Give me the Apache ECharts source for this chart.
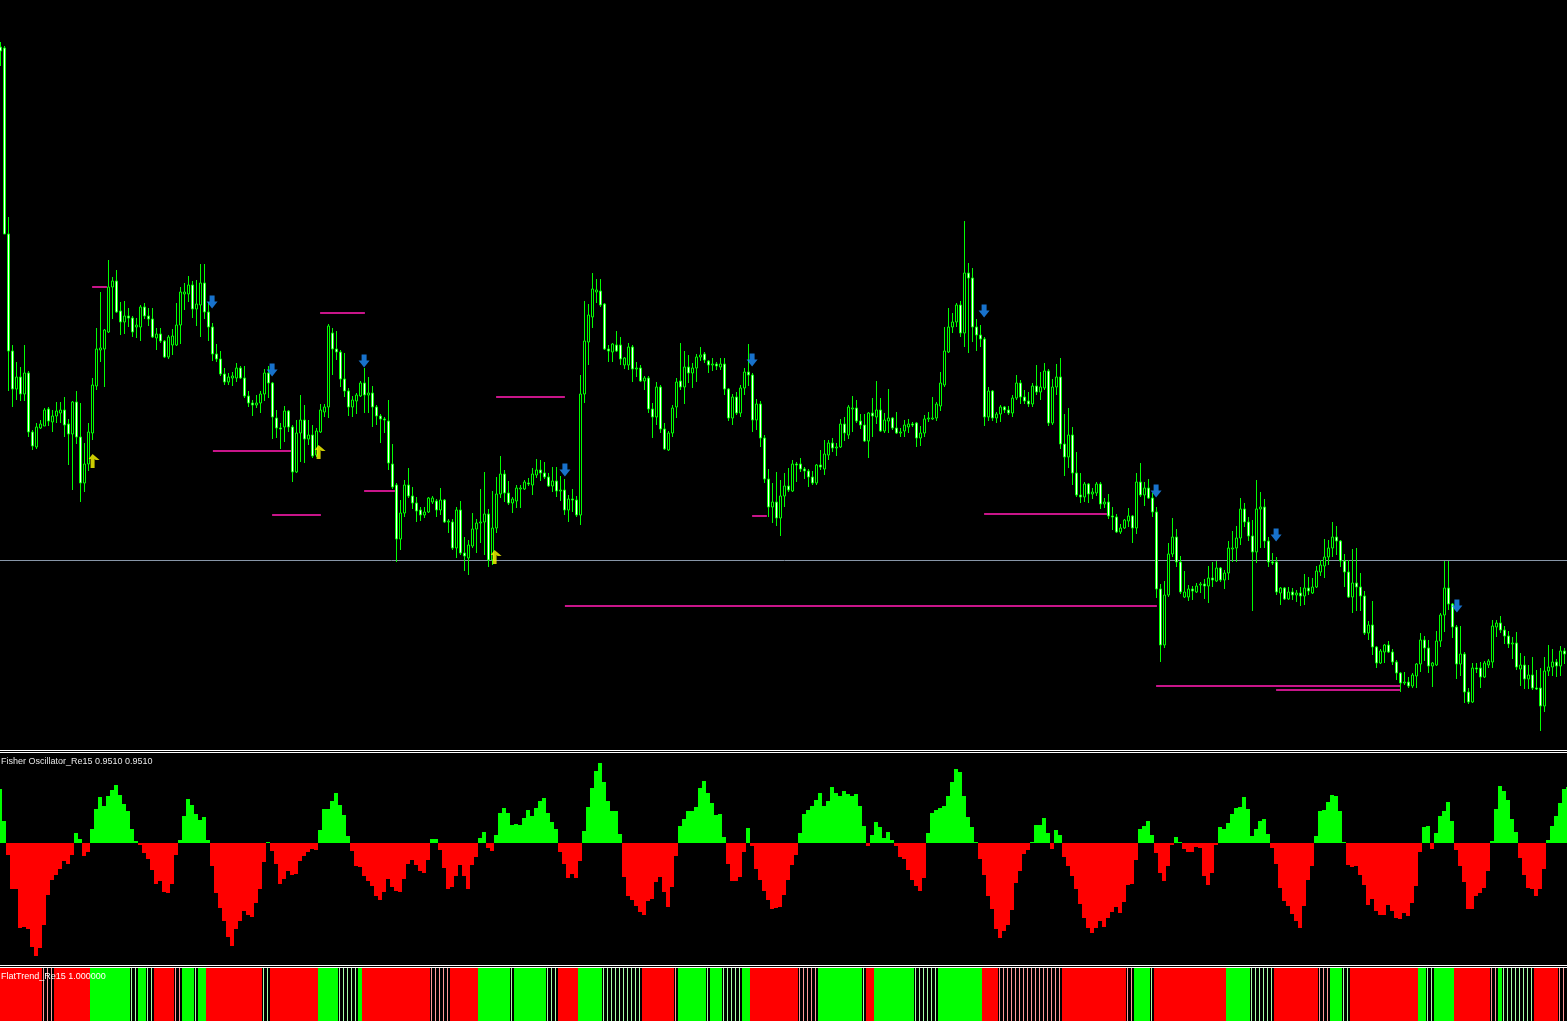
<!DOCTYPE html>
<html><head><meta charset="utf-8">
<script src="https://cdn.jsdelivr.net/npm/echarts@6/dist/echarts.min.js"></script>
<style>html,body{margin:0;padding:0;background:#000;overflow:hidden;width:1567px;height:1021px}#c{position:absolute;left:-3px;top:0;width:1576px;height:1021px}</style>
</head><body><div id="c"></div>
<script>
// ---- main price panel (price points), bars 0..392 ----
const opens = [
703,702,516,399,361,373,356,377,318,303,
322,324,341,328,334,337,340,326,316,348,
313,267,286,317,364,400,401,418,463,469,
439,428,434,432,423,423,443,434,431,412,
416,409,393,405,405,425,456,456,465,441,
445,467,438,423,396,391,376,368,372,372,
382,372,354,347,345,347,356,377,367,332,
322,323,339,323,278,317,330,311,315,295,
318,338,343,417,401,398,371,359,343,349,
354,367,355,357,343,334,331,329,286,265,
211,237,265,254,247,240,235,238,248,249,
240,250,228,228,202,240,197,192,204,221,
227,228,236,190,222,256,276,257,247,249,
261,261,267,265,275,280,277,273,264,269,
259,260,240,251,250,235,356,408,433,458,
459,446,401,398,405,405,385,385,403,381,
382,369,372,341,333,363,321,300,317,343,
369,363,383,377,382,393,396,389,385,386,
383,386,361,332,353,337,362,378,375,330,
346,312,271,243,248,232,254,264,259,286,
286,281,279,273,267,285,281,295,307,302,
303,326,315,341,342,329,325,309,337,333,
340,319,329,332,322,317,319,323,326,327,
312,317,331,331,332,344,365,398,423,428,
445,417,477,472,423,415,411,333,359,332,
336,343,340,337,352,367,353,349,346,364,
358,362,379,327,363,373,306,293,315,277,
255,253,266,256,257,266,246,248,234,233,
218,222,229,234,222,268,255,262,252,238,
161,105,155,196,213,188,153,153,161,158,
165,166,164,172,169,182,170,177,201,202,
212,241,228,214,198,241,243,209,188,188,
157,162,151,158,155,157,154,162,157,163,
178,184,193,202,213,209,189,178,153,167,
163,154,117,125,103,87,98,105,98,88,
77,67,68,64,74,86,110,102,84,85,
109,135,162,146,123,86,96,58,48,82,
82,73,85,88,123,127,120,114,106,107,
81,85,71,75,62,62,44,79,83,88,
84,99,96];
const closes = [
699,516,399,361,373,356,377,318,304,323,
326,340,329,334,339,340,325,316,348,313,
267,286,318,365,401,402,420,463,469,438,
428,434,432,418,425,443,434,431,413,416,
409,393,413,414,425,458,458,465,441,446,
467,438,423,396,391,376,368,373,374,382,
372,354,347,345,347,356,377,367,333,322,
321,339,323,278,317,330,311,315,294,319,
340,343,424,401,398,371,359,343,350,355,
367,355,357,343,334,331,330,287,263,211,
237,265,254,247,239,235,238,252,252,240,
250,228,229,202,240,197,194,205,221,227,
228,236,190,222,256,276,257,247,251,262,
262,268,266,276,280,277,273,264,269,259,
260,240,251,250,235,356,409,435,461,460,
445,401,399,406,399,391,392,403,381,382,
369,372,341,333,363,321,301,317,342,368,
363,383,377,382,393,395,390,385,386,384,
386,361,332,353,337,362,378,375,330,346,
312,271,243,248,232,254,264,260,286,285,
281,279,273,267,285,283,296,307,302,303,
326,317,343,342,329,325,309,337,334,340,
319,330,332,322,317,318,325,326,325,312,
317,331,332,332,346,367,399,423,428,445,
417,477,472,423,415,411,333,359,332,336,
343,340,337,352,367,353,349,346,364,358,
363,379,327,363,373,306,293,315,277,255,
253,266,256,258,266,246,248,234,233,218,
222,230,234,222,268,255,262,252,238,161,
105,155,196,213,188,158,158,161,159,164,
166,164,172,170,182,170,177,202,202,212,
241,228,214,198,241,243,209,188,187,158,
162,151,158,155,157,154,162,159,163,179,
185,193,202,213,209,189,178,153,167,163,
154,117,125,103,87,99,105,98,88,77,
67,68,64,75,86,110,102,84,87,109,
135,162,146,123,86,96,58,48,82,81,
73,87,89,124,127,120,114,106,107,83,
85,71,75,62,61,44,79,83,88,84,
99,96,100];
const highs = [
708,704,533,405,388,383,405,379,320,327,
330,342,343,340,348,348,353,331,349,359,
347,307,327,372,422,458,421,490,473,480,
448,449,442,434,432,445,447,442,442,422,
422,410,415,421,447,463,467,474,469,470,
486,486,448,427,406,399,382,377,378,387,
384,384,359,350,355,359,381,384,368,340,
327,344,340,325,330,355,345,330,325,322,
346,346,426,422,419,400,397,362,354,357,
369,382,373,364,345,336,333,350,306,267,
250,270,282,263,253,243,243,253,254,251,
262,251,231,231,243,249,213,210,237,231,
261,278,241,259,273,294,280,269,253,265,
265,270,272,282,291,290,288,277,283,283,
274,271,255,261,254,375,449,446,477,471,
471,447,405,407,419,413,393,407,405,388,
385,374,374,347,368,365,327,319,345,372,
407,399,395,387,396,403,398,390,392,388,
392,392,362,356,358,365,382,406,377,351,
349,315,281,267,278,270,277,282,290,288,
292,283,281,279,286,300,310,310,312,307,
331,333,345,354,350,336,336,338,352,369,
352,337,361,333,338,322,330,331,328,328,
324,335,338,353,348,378,423,442,437,447,
449,529,487,482,431,425,413,363,360,338,
345,344,344,355,375,370,360,358,367,385,
378,387,381,371,386,392,336,342,323,298,
277,268,267,262,268,268,252,256,243,236,
226,231,242,235,277,287,268,271,257,243,
166,169,207,232,221,194,179,165,164,167,
168,171,184,188,189,183,180,209,219,224,
252,247,233,230,270,258,251,213,197,193,
163,163,163,162,160,163,176,173,172,184,
190,211,210,228,224,210,196,190,201,202,
177,159,129,149,104,101,106,109,101,90,
78,78,73,77,87,117,114,110,88,119,
137,189,189,147,125,124,98,62,87,87,
88,89,91,130,130,134,124,119,113,118,
97,94,85,93,80,82,93,105,101,91,
104,102,105];
const lows = [
684,516,359,343,350,349,349,313,300,301,
321,324,324,318,327,327,313,285,260,306,
248,258,279,310,360,388,363,417,431,437,
415,416,423,413,412,409,431,424,412,400,
407,392,391,395,404,406,440,448,432,424,
413,431,409,389,388,374,365,365,364,368,
371,352,343,334,342,337,349,352,311,312,
301,308,318,268,277,288,287,305,292,293,
317,333,332,375,390,363,353,334,333,336,
353,337,337,323,325,307,317,280,261,188,
200,233,252,241,228,229,232,237,246,233,
235,227,217,200,192,195,179,175,202,197,
207,195,183,185,217,252,248,245,237,242,
242,260,264,255,272,269,271,263,258,253,
249,235,228,238,233,225,347,385,422,447,
443,400,388,388,398,385,381,380,368,373,
368,360,337,312,325,317,300,299,313,332,
360,346,367,362,368,389,387,377,379,380,
380,355,329,325,335,333,355,364,318,320,
303,267,233,227,224,214,243,258,258,268,
278,271,263,265,265,280,275,290,298,294,
302,309,311,318,327,321,308,292,313,326,
318,317,317,320,316,313,313,317,323,303,
304,313,328,330,329,339,363,397,417,423,
413,403,397,408,399,403,324,329,329,327,
328,337,335,333,350,346,346,343,343,355,
350,360,324,325,355,301,274,282,265,253,
247,248,247,251,254,241,242,231,220,217,
216,221,223,207,216,253,244,251,233,152,
88,102,153,193,183,156,152,149,150,157,
157,151,147,163,168,168,161,170,188,188,
205,223,209,139,187,202,202,183,185,155,
145,150,150,150,148,144,145,155,156,162,
174,172,185,193,195,183,163,152,137,139,
139,115,110,95,82,86,87,97,85,70,
58,65,62,62,62,78,89,77,63,84,
103,118,140,112,71,74,47,46,47,77,
62,72,82,82,113,117,106,102,91,80,
64,61,61,60,60,19,38,74,74,73,
74,86,90];

// horizontal price level (grey line)
const priceLevel = 189.5;
// support / resistance segments (bar positions and price)
const levelFrom  = [22.9, 53.1, 67.9, 79.9, 90.9, 123.9, 187.9, 141.1, 245.9, 288.9, 318.9];
const levelTo    = [26.6, 72.6, 80.1, 91.1, 98.6, 141.1, 191.6, 289.1, 276.6, 349.9, 349.9];
const levelPrice = [463, 299, 235, 437, 259, 353, 234, 144, 236, 64, 60];
// signal arrows
const downArrowBar   = [52.9, 67.9, 90.9, 141.1, 187.9, 245.9, 288.9, 318.9, 364.1];
const downArrowPrice = [448, 380, 389, 280, 390, 439, 259, 215, 144];
const upArrowBar     = [23.4, 79.9, 123.9];
const upArrowPrice   = [289, 298, 193];

// ---- Fisher oscillator ----
const fisher = [
54,22,-12,-46,-46,-85,-84,-86,-104,-113,
-105,-82,-52,-37,-32,-26,-18,-21,-12,10,
4,-13,-9,14,34,46,37,47,53,58,
48,39,32,14,2,-2,-10,-16,-27,-41,
-38,-49,-50,-41,-12,3,27,44,38,29,
23,26,3,-23,-50,-65,-78,-94,-103,-86,
-78,-68,-72,-74,-60,-46,-19,1,-8,-21,
-41,-36,-28,-32,-31,-18,-13,-9,-6,-7,
13,34,34,42,50,38,28,7,-8,-23,
-24,-33,-38,-43,-53,-57,-49,-36,-44,-48,
-49,-36,-21,-17,-22,-28,-30,-17,4,4,
-7,-25,-46,-44,-33,-22,-33,-46,-22,-14,
5,11,-5,-8,8,30,35,30,18,19,
18,25,33,27,35,42,45,30,21,14,
-9,-21,-35,-31,-35,-18,12,36,55,72,
80,61,42,32,32,9,-34,-53,-57,-63,
-69,-72,-58,-56,-39,-34,-49,-64,-44,-13,
17,24,32,32,36,55,62,50,40,28,
29,6,-21,-38,-38,-34,-9,15,-3,-26,
-37,-48,-57,-66,-65,-64,-52,-37,-22,-12,
10,29,33,37,43,50,37,42,56,50,
47,52,49,47,49,37,17,-3,8,21,
16,5,11,3,-3,-14,-16,-27,-37,-43,
-48,-35,10,30,33,35,37,47,61,74,
71,47,26,16,1,-16,-32,-53,-66,-86,
-95,-88,-82,-67,-40,-28,-11,-7,1,18,
18,25,10,-6,13,8,-14,-23,-33,-46,
-61,-75,-85,-90,-85,-78,-84,-75,-69,-64,
-70,-59,-42,-41,-17,14,17,22,8,-10,
-30,-38,-23,-2,6,1,-6,-9,-9,-4,
-5,-33,-42,-30,-2,16,14,20,29,35,
36,46,34,7,14,22,24,9,-5,-21,
-45,-58,-63,-71,-78,-85,-63,-37,-23,7,
32,33,41,48,47,32,1,-22,-24,-23,
-32,-42,-62,-56,-68,-72,-72,-62,-68,-75,
-76,-70,-73,-60,-43,-9,16,17,-6,10,
27,32,41,22,-7,-23,-39,-66,-66,-53,
-50,-45,-28,2,34,57,52,43,24,11,
-15,-32,-45,-46,-53,-46,-26,3,17,27,
40,54,56];

// ---- FlatTrend states per bar: R red, G green, r flat(red), g flat(green) ----
const flatStates = [
"RRRRRRRRRRR","rrr","RRRRRRRRR","GGGGGGGGGG","gg","GG","gg","RRRRR","rr","GGG","g","GG",
"RRRRRRRRRRRRRR","gg","RRRRRRRRRRRR","GGGGG","ggggg","G","RRRRRRRRR",
"RRRRRRRR","rrrrr","RRRRRRR","GGGGGGGG","g","GGGGGGGG","ggg","RRRRR","GGGGGG","gggggggggg",
"RRRRRRRR","r","GGGGGGG","g","GGG","ggggg","GG","RRRRRRRRRRRR","rrrrr","GGGGGGGGGGG","g","RR",
"GGGGGGGGGG","gggggg","GGGGGGGGGGG","RRRR","rrrrrrrrrrrrrrrr","RRRRRRRRRRRRRRRR","rr","GGGG","g",
"RRRRRRRRRRRRRRRRRR","GGGGGG","gggggg","RRRRRRRRRRR","rrr","GGG","gg","RRRRRRRRRRRRRRRRR",
"GG","gg","GGGGG","RRRRRRRRR","rr","G","gggggggg","RRRRRR","rrr"
].join('').split('');

const N = opens.length;
const cats = opens.map((_, i) => String(i));
const candleData = opens.map((o, i) => [o, closes[i], lows[i], highs[i]]);

const levelSeries = levelFrom.map((x0, i) => ({
  type: 'line', xAxisIndex: 1, yAxisIndex: 0, silent: true, symbol: 'none',
  lineStyle: { color: '#C8158A', width: 2 },
  data: [[x0, levelPrice[i]], [levelTo[i], levelPrice[i]]], z: 4
}));

const solidColors = { R: '#ff0000', G: '#00ff00' };
const stripeColors = { r: '#ff9a9a', g: '#a8ffa8' };
const OX = 3; // container is shifted 3px left of the page
const gridBase = { outerBoundsMode: 'none', containLabel: false };

const option = {
  backgroundColor: '#000000',
  animation: false,
  grid: [
    Object.assign({ left: OX + 1.5 - 3, top: 0, width: 1572, height: 748 }, gridBase),
    Object.assign({ left: OX - 2, top: 753, width: 1572, height: 210 }, gridBase),
    Object.assign({ left: OX - 2, top: 968, width: 1572, height: 53 }, gridBase),
    Object.assign({ left: OX - 2.5, top: 968, width: 1572, height: 53 }, gridBase)
  ],
  xAxis: [
    { type: 'category', gridIndex: 0, data: cats, show: false },
    { type: 'value', gridIndex: 0, min: -0.5, max: N - 0.5, show: false },
    { type: 'category', gridIndex: 1, data: cats, show: false },
    { type: 'category', gridIndex: 2, data: cats, show: false },
    { type: 'category', gridIndex: 3, data: cats, show: false }
  ],
  yAxis: [
    { type: 'value', gridIndex: 0, min: 2, max: 750, show: false },
    { type: 'value', gridIndex: 1, min: -120, max: 90, show: false },
    { type: 'value', gridIndex: 2, min: 0, max: 1, show: false },
    { type: 'value', gridIndex: 3, min: 0, max: 1, show: false }
  ],
  series: [
    {
      type: 'line', xAxisIndex: 1, yAxisIndex: 0, silent: true, symbol: 'none',
      lineStyle: { color: '#8796a8', width: 1 },
      data: [[-0.5, priceLevel], [N - 0.5, priceLevel]], z: 1
    },
    {
      type: 'candlestick', xAxisIndex: 0, yAxisIndex: 0, data: candleData,
      barWidth: 2, barMaxWidth: 2, barMinWidth: 1,
      itemStyle: { color: '#000000', color0: '#ffffff', borderColor: '#00ff00', borderColor0: '#00ff00', borderColorDoji: '#00ff00', borderWidth: 1 },
      z: 3
    },
    ...levelSeries,
    {
      type: 'scatter', xAxisIndex: 1, yAxisIndex: 0, silent: true,
      symbol: 'path://M3,0 L8,0 L8,6 L11,6 L5.5,13 L0,6 L3,6 Z', symbolSize: [11, 13],
      itemStyle: { color: '#1e8fff' },
      data: downArrowBar.map((b, i) => [b, downArrowPrice[i]]), z: 5
    },
    {
      type: 'scatter', xAxisIndex: 1, yAxisIndex: 0, silent: true,
      symbol: 'path://M2,14 L2,5 L0,5 L4,0 L11,6 L7,6 L6,5 L6,14 Z', symbolSize: [11, 14],
      itemStyle: { color: '#ffff00' },
      data: upArrowBar.map((b, i) => [b, upArrowPrice[i]]), z: 5
    },
    {
      type: 'bar', xAxisIndex: 2, yAxisIndex: 1, barCategoryGap: '0%', barWidth: 4,
      data: fisher,
      itemStyle: { color: p => (p.value >= 0 ? '#00ff00' : '#ff0000') }
    },
    {
      type: 'bar', xAxisIndex: 3, yAxisIndex: 2, barWidth: 4,
      data: flatStates.map(s => solidColors[s] ? { value: 1, itemStyle: { color: solidColors[s] } } : '-')
    },
    {
      type: 'bar', xAxisIndex: 4, yAxisIndex: 3, barWidth: 1,
      data: flatStates.map(s => stripeColors[s] ? { value: 1, itemStyle: { color: stripeColors[s] } } : '-')
    }
  ],
  graphic: [
    { type: 'line', shape: { x1: 0, y1: 750.5, x2: 1576, y2: 750.5 }, style: { stroke: '#ffffff', lineWidth: 1 } },
    { type: 'line', shape: { x1: 0, y1: 752.5, x2: 1576, y2: 752.5 }, style: { stroke: '#ffffff', lineWidth: 1 } },
    { type: 'line', shape: { x1: 0, y1: 965.5, x2: 1576, y2: 965.5 }, style: { stroke: '#ffffff', lineWidth: 1 } },
    { type: 'line', shape: { x1: 0, y1: 967.5, x2: 1576, y2: 967.5 }, style: { stroke: '#ffffff', lineWidth: 1 } },
    { type: 'text', left: OX + 1, top: 757, z: 100, style: { text: 'Fisher Oscillator_Re15 0.9510 0.9510', fill: '#e6e6e6', font: '9px "Liberation Sans", Arial, sans-serif' } },
    { type: 'text', left: OX + 1, top: 972, z: 100, style: { text: 'FlatTrend_Re15 1.000000', fill: '#ffffff', font: '9px "Liberation Sans", Arial, sans-serif' } }
  ]
};
const chart = echarts.init(document.getElementById('c'));
chart.setOption(option);
</script>
</body></html>
